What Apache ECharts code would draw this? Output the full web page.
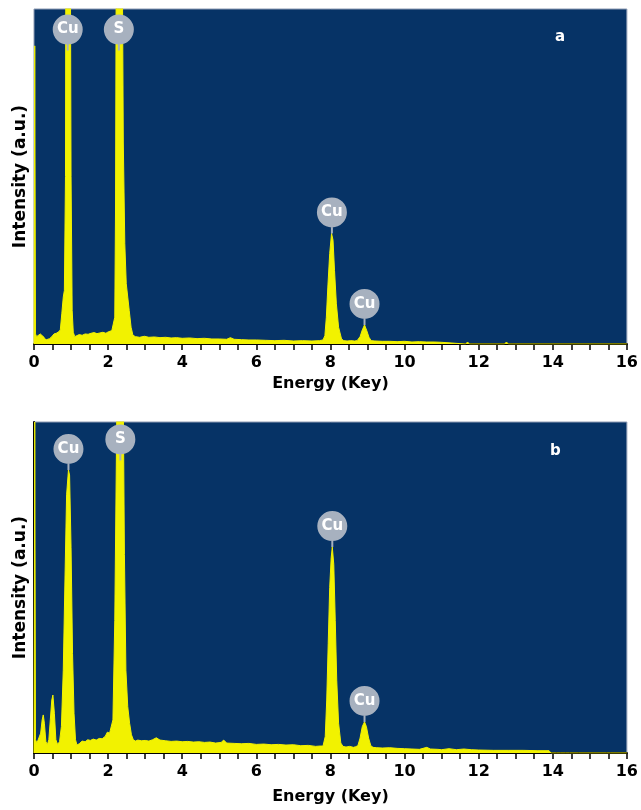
<!DOCTYPE html>
<html><head><meta charset="utf-8">
<script src="https://cdn.jsdelivr.net/npm/echarts@6/dist/echarts.min.js"></script>
<style>html,body{margin:0;padding:0;background:#fff}#c{width:641px;height:810px}</style>
</head><body><div id="c"></div>
<script>
// Panel a spectrum
const energyA = [
  0.00, 0.02, 0.04, 0.07, 0.12, 0.17, 0.22, 0.27, 0.32, 0.37,
  0.42, 0.48, 0.54, 0.60, 0.66, 0.71, 0.75, 0.79, 0.82, 0.85,
  0.86, 0.98, 1.00, 1.03, 1.06, 1.10, 1.15, 1.22, 1.30, 1.38,
  1.46, 1.54, 1.62, 1.70, 1.78, 1.86, 1.94, 2.00, 2.05, 2.10,
  2.14, 2.18, 2.20, 2.22, 2.38, 2.41, 2.45, 2.49, 2.53, 2.57,
  2.62, 2.67, 2.74, 2.85, 2.98, 3.10, 3.25, 3.40, 3.55, 3.70,
  3.85, 4.00, 4.20, 4.40, 4.60, 4.80, 5.00, 5.20, 5.30, 5.40,
  5.60, 5.80, 6.00, 6.25, 6.50, 6.75, 7.00, 7.25, 7.50, 7.70,
  7.80, 7.85, 7.89, 7.93, 7.98, 8.03, 8.07, 8.11, 8.16, 8.22,
  8.30, 8.36, 8.45, 8.55, 8.65, 8.72, 8.80, 8.86, 8.92, 8.98,
  9.04, 9.10, 9.20, 9.40, 9.60, 9.80, 10.00, 10.20, 10.40, 10.60,
  10.80, 11.00, 11.05, 11.65, 11.70, 11.75, 12.70, 12.75, 12.80, 16.00
];
const intensityA = [
  0, 89, 3, 2.2, 2.6, 3.0, 2.8, 2.0, 1.2, 1.0,
  1.6, 2.2, 3.0, 3.2, 3.6, 4.2, 9, 14, 16, 50,
  120, 120, 50, 10, 3.5, 2.2, 2.4, 2.8, 2.6, 3.0,
  2.9, 3.2, 3.4, 3.1, 3.3, 3.5, 3.2, 3.6, 3.4, 4.0,
  3.8, 8, 40, 120, 120, 60, 30, 18, 14, 10,
  5, 2.6, 2.2, 2.0, 2.3, 2.0, 2.1, 1.9, 2.0, 1.8,
  1.9, 1.7, 1.8, 1.6, 1.7, 1.5, 1.5, 1.4, 1.9, 1.4,
  1.3, 1.2, 1.2, 1.1, 1.0, 1.1, 0.9, 1.0, 0.9, 1.0,
  1.2, 2.5, 8, 17, 27, 33, 31, 22, 12, 5,
  1.5, 1.0, 0.9, 1.0, 0.9, 1.0, 2.2, 4.2, 5.7, 4.0,
  2.0, 1.0, 0.9, 0.8, 0.8, 0.7, 0.8, 0.6, 0.7, 0.6,
  0.6, 0.5, 0, 0, 0.6, 0, 0, 0.6, 0, 0
];
// Panel b spectrum
const energyB = [
  0.00, 0.02, 0.04, 0.08, 0.13, 0.18, 0.22, 0.25, 0.28, 0.32,
  0.36, 0.40, 0.44, 0.48, 0.51, 0.55, 0.59, 0.64, 0.69, 0.74,
  0.79, 0.84, 0.88, 0.93, 0.96, 1.00, 1.04, 1.08, 1.12, 1.16,
  1.22, 1.30, 1.38, 1.45, 1.52, 1.60, 1.68, 1.76, 1.84, 1.92,
  1.98, 2.04, 2.09, 2.13, 2.18, 2.25, 2.40, 2.44, 2.48, 2.53,
  2.58, 2.63, 2.68, 2.74, 2.80, 2.90, 3.00, 3.10, 3.20, 3.30,
  3.40, 3.55, 3.70, 3.85, 4.00, 4.15, 4.30, 4.45, 4.60, 4.75,
  4.90, 5.05, 5.12, 5.20, 5.40, 5.60, 5.80, 6.00, 6.20, 6.40,
  6.60, 6.80, 7.00, 7.20, 7.40, 7.60, 7.72, 7.80, 7.86, 7.90,
  7.94, 7.98, 8.02, 8.05, 8.09, 8.13, 8.17, 8.22, 8.28, 8.34,
  8.42, 8.52, 8.62, 8.68, 8.74, 8.80, 8.86, 8.92, 8.97, 9.03,
  9.09, 9.15, 9.25, 9.40, 9.60, 9.80, 10.00, 10.20, 10.40, 10.60,
  10.70, 10.90, 11.00, 11.20, 11.40, 11.60, 11.80, 12.00, 12.40, 12.80,
  13.20, 13.60, 13.90, 13.95, 14.10, 14.15, 14.20, 14.35, 14.40, 14.45,
  14.60, 14.65, 14.70, 15.45, 15.50, 15.55, 16.00
];
const intensityB = [
  0, 100, 4, 3.0, 3.5, 6, 10, 11.5, 9, 3.5,
  2.5, 4, 10, 16, 17.5, 12, 4, 2.5, 3.5, 8,
  25, 55, 78, 85.5, 84, 62, 30, 12, 4, 2.4,
  2.8, 3.6, 3.4, 4.0, 3.8, 4.2, 3.9, 4.4, 4.3, 5.0,
  6.3, 6.0, 6.5, 10, 40, 120, 120, 60, 25, 14,
  9, 5.5, 4.0, 3.6, 3.9, 3.7, 3.8, 3.6, 4.0, 4.6,
  3.9, 3.7, 3.5, 3.6, 3.4, 3.5, 3.3, 3.4, 3.2, 3.3,
  3.0, 3.2, 3.9, 3.0, 2.9, 2.8, 2.9, 2.6, 2.7, 2.5,
  2.6, 2.4, 2.5, 2.2, 2.3, 2.0, 2.1, 2.1, 5, 16,
  33, 50, 59, 62.2, 57, 40, 22, 9, 3, 2.0,
  1.8, 2.0, 1.7, 1.9, 2.2, 4.5, 8, 9.4, 8, 4.5,
  2.2, 1.7, 1.6, 1.5, 1.6, 1.4, 1.3, 1.2, 1.1, 1.7,
  1.2, 1.1, 1.0, 1.3, 1.0, 1.2, 1.0, 0.9, 0.8, 0.8,
  0.8, 0.7, 0.7, 0, 0, 0.6, 0, 0, 0.6, 0,
  0, 0.6, 0, 0, 0.6, 0, 0
];
// Peak annotations
const peakNamesA = ['Cu', 'S', 'Cu', 'Cu'];
const peakEnergyA = [0.91, 2.29, 8.04, 8.92];
const peakHeightA = [87.6, 87.6, 33, 5.7];
const peakNamesB = ['Cu', 'S', 'Cu', 'Cu'];
const peakEnergyB = [0.93, 2.33, 8.05, 8.92];
const peakHeightB = [85.5, 88.4, 62.2, 9.4];
const xTicks = [0, 2, 4, 6, 8, 10, 12, 14, 16];
const panelLetters = ['a', 'b'];

const FONT = '"DejaVu Sans", Arial, sans-serif';
const NAVY = '#063366';
const YELLOW = '#f2f200';
const BADGE = '#a7b1bf';

function xAxisCfg(gi, gap) {
  return {
    type: 'value', gridIndex: gi, min: xTicks[0], max: xTicks[xTicks.length - 1], interval: xTicks[1] - xTicks[0],
    name: 'Energy (Key)', nameLocation: 'middle', nameGap: gap,
    nameTextStyle: { fontFamily: FONT, fontWeight: 'bold', fontSize: 16, color: '#000' },
    axisLine: { show: true, onZero: false, lineStyle: { color: '#000', width: 2 } },
    axisTick: { show: true, length: 6, lineStyle: { color: '#000', width: 1.5 } },
    minorTick: { show: true, splitNumber: 4, length: 6, lineStyle: { color: '#000', width: 1.5 } },
    axisLabel: { fontFamily: FONT, fontWeight: 'bold', fontSize: 16, color: '#000', margin: 11, showMaxLabel: true, showMinLabel: true },
    splitLine: { show: false }, minorSplitLine: { show: false }
  };
}
function yAxisCfg(gi, showLine) {
  return {
    type: 'value', gridIndex: gi, min: 0, max: 100,
    name: 'Intensity (a.u.)', nameLocation: 'middle', nameGap: 5,
    nameTextStyle: { fontFamily: FONT, fontWeight: 'bold', fontSize: 17, color: '#000' },
    axisLine: { show: showLine, lineStyle: { color: '#000', width: 2 } },
    axisTick: { show: false }, axisLabel: { show: false }, splitLine: { show: false }
  };
}
function spectrum(gi, xs, ys) {
  return {
    type: 'line', xAxisIndex: gi, yAxisIndex: gi,
    data: xs.map((e, i) => [e, ys[i]]),
    showSymbol: false, symbol: 'none', clip: true, z: 2,
    lineStyle: { color: YELLOW, width: 1 },
    areaStyle: { color: YELLOW, opacity: 1 }
  };
}
const BADGE_PATH = 'path://M15,0A15,15,0,1,1,14.99,0Z M14,29 L16,29 L16,36 L14,36Z';
function badges(gi, names, xs, ys) {
  return {
    type: 'scatter', xAxisIndex: gi, yAxisIndex: gi, z: 5,
    data: names.map((n, i) => ({ name: n, value: [xs[i], ys[i]] })),
    symbol: BADGE_PATH, symbolSize: [30, 36], symbolOffset: [0, '-50%'],
    itemStyle: { color: BADGE, opacity: 1 },
    label: { show: true, position: 'inside', offset: [0, -3], formatter: '{b}', color: '#fff',
      fontFamily: FONT, fontWeight: 'bold', fontSize: 15 }
  };
}

const chart = echarts.init(document.getElementById('c'), null, { renderer: 'canvas' });
chart.setOption({
  animation: false,
  backgroundColor: '#fff',
  grid: [
    { left: 34, right: 12, top: 9, height: 335, show: true, backgroundColor: NAVY, borderColor: '#8d9bb3', borderWidth: 1 },
    { left: 34, right: 12, top: 422, height: 331, show: true, backgroundColor: NAVY, borderColor: '#8d9bb3', borderWidth: 1 }
  ],
  xAxis: [xAxisCfg(0, 32), xAxisCfg(1, 36)],
  yAxis: [yAxisCfg(0, false), yAxisCfg(1, true)],
  series: [
    spectrum(0, energyA, intensityA),
    spectrum(1, energyB, intensityB),
    badges(0, peakNamesA, peakEnergyA, peakHeightA),
    badges(1, peakNamesB, peakEnergyB, peakHeightB)
  ],
  graphic: [
    { type: 'text', left: 555, top: 30, style: { text: panelLetters[0], fill: '#fff', font: 'bold 15px ' + FONT } },
    { type: 'text', left: 550, top: 444, style: { text: panelLetters[1], fill: '#fff', font: 'bold 15px ' + FONT } }
  ]
});
</script></body></html>
